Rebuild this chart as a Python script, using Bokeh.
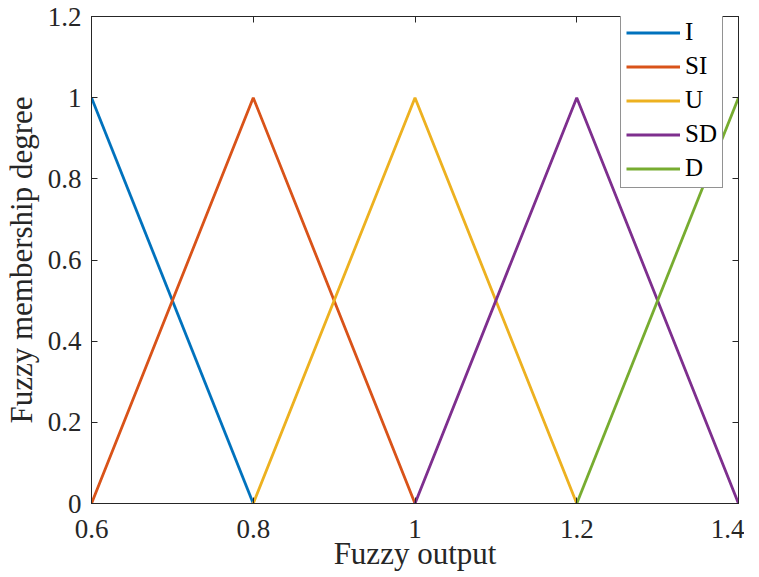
from bokeh.plotting import figure
from bokeh.models import Range1d, LinearAxis, FixedTicker, Legend, LegendItem
from bokeh.embed import file_html
from bokeh.resources import INLINE

# Data
x_I = [0.6, 0.8]
y_I = [1, 0]
x_SI = [0.6, 0.8, 1.0]
y_SI = [0, 1, 0]
x_U = [0.8, 1.0, 1.2]
y_U = [0, 1, 0]
x_SD = [1.0, 1.2, 1.4]
y_SD = [0, 1, 0]
x_D = [1.2, 1.4]
y_D = [0, 1]
names = ["I", "SI", "U", "SD", "D"]
colors = ["#0072BD", "#D95319", "#EDB120", "#7E2F8E", "#77AC30"]

x_ticks = [0.6, 0.8, 1.0, 1.2, 1.4]
x_tick_labels = ["0.6", "0.8", "1", "1.2", "1.4"]
y_ticks = [0, 0.2, 0.4, 0.6, 0.8, 1.0, 1.2]
y_tick_labels = ["0", "0.2", "0.4", "0.6", "0.8", "1", "1.2"]

FONT = "Liberation Serif"
AX = "#262626"

p = figure(frame_width=647, frame_height=487, output_backend="svg", toolbar_location=None,
           x_range=Range1d(0.6, 1.4), y_range=Range1d(0, 1.2),
           min_border_left=88, min_border_top=16, min_border_right=6, min_border_bottom=66,
           x_axis_label="Fuzzy output", y_axis_label="Fuzzy membership degree")
p.xgrid.visible = False
p.ygrid.visible = False
p.outline_line_color = AX
p.outline_line_alpha = 1.0

xs = [x_I, x_SI, x_U, x_SD, x_D]
ys = [y_I, y_SI, y_U, y_SD, y_D]
renderers = []
for xv, yv, c in zip(xs, ys, colors):
    r = p.line(xv, yv, line_color=c, line_width=2.8)
    renderers.append(r)

def style_axis(ax, ticks, labels, show_labels=True):
    ax.ticker = FixedTicker(ticks=ticks)
    ax.major_label_overrides = {t: l for t, l in zip(ticks, labels)}
    ax.major_tick_in = 6
    ax.major_tick_out = 0
    ax.minor_tick_in = 0
    ax.minor_tick_out = 0
    ax.axis_line_color = AX
    ax.major_tick_line_color = AX
    ax.major_label_text_font = FONT
    ax.major_label_text_color = AX
    ax.major_label_text_font_size = "27px"
    ax.axis_label_text_font = FONT
    ax.axis_label_text_font_size = "31px"
    ax.axis_label_text_font_style = "normal"
    ax.axis_label_text_color = AX
    if not show_labels:
        ax.major_label_text_font_size = "0px"
        ax.major_label_text_alpha = 0

style_axis(p.xaxis[0], x_ticks, x_tick_labels)
style_axis(p.yaxis[0], y_ticks, y_tick_labels)
p.xaxis[0].major_label_standoff = 16
p.xaxis[0].axis_label_standoff = -5
p.yaxis[0].major_label_standoff = 10
p.yaxis[0].axis_label_standoff = 6

top = LinearAxis()
style_axis(top, x_ticks, x_tick_labels, show_labels=False)
p.add_layout(top, "above")
right = LinearAxis()
style_axis(right, y_ticks, y_tick_labels, show_labels=False)
p.add_layout(right, "right")

items = [LegendItem(label=n, renderers=[r]) for n, r in zip(names, renderers)]
legend = Legend(items=items, location=(529, 315))
legend.label_text_font = FONT
legend.label_text_font_size = "25px"
legend.label_text_color = "#000000"
legend.glyph_width = 54
legend.glyph_height = 25
legend.label_height = 25
legend.spacing = 6
legend.padding = 5
legend.margin = 0
legend.label_standoff = 5
legend.border_line_color = AX
legend.border_line_width = 1
legend.background_fill_color = "white"
legend.background_fill_alpha = 1
p.add_layout(legend, "center")

open("out.html", "w").write(file_html(p, INLINE))
